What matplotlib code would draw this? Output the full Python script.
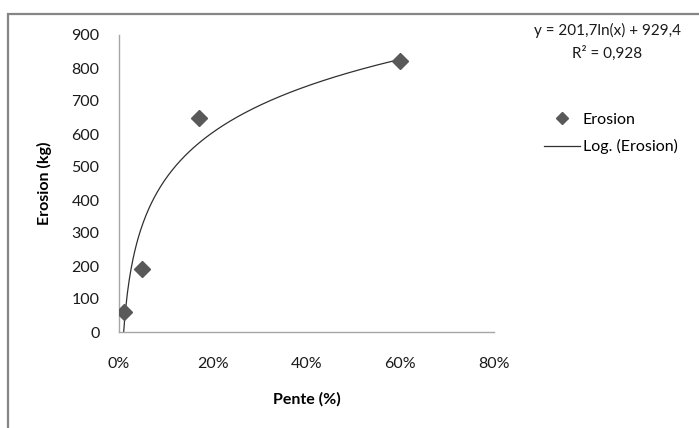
import matplotlib
matplotlib.use("Agg")
import matplotlib.pyplot as plt
import matplotlib.patches as mpatches
from matplotlib.lines import Line2D
from matplotlib.ticker import PercentFormatter
import numpy as np

# donnees
pente = [0.01, 0.05, 0.17, 0.60]
erosion = [60, 190, 650, 820]

# coefficients de la courbe de tendance (affiches)
coef_a = 201.7
coef_b = 929.4
r2_label = "R² = 0,928"
eq_label = "y = 201,7ln(x) + 929,4"

x_ticks = [0, 0.2, 0.4, 0.6, 0.8]
y_ticks = [0, 100, 200, 300, 400, 500, 600, 700, 800, 900]

plt.rcParams["font.family"] = ["Lato", "DejaVu Sans"]

fig = plt.figure(figsize=(6.99, 4.28), dpi=100)
W, H = 699, 428

# cadre exterieur du graphique (coupe a droite et en bas)
frame = mpatches.Rectangle((8 / W, -0.1), 1.2, 1 - 14 / H + 0.1,
                           transform=fig.transFigure, fill=False,
                           edgecolor="#858585", linewidth=1.6)
fig.patches.append(frame)

ax = fig.add_axes([119 / W, 1 - 332 / H, (494 - 119) / W, (332 - 35) / H])

grey = "#595959"
ax.plot(pente, erosion, linestyle="none", marker="D", markersize=8,
        color=grey, zorder=3)

xs = np.linspace(min(pente), max(pente), 300)
ax.plot(xs, coef_a * np.log(xs) + coef_b, color="#303030", linewidth=0.9,
        zorder=2)

ax.set_xlim(0, 0.8)
ax.set_ylim(0, 900)
ax.set_xticks(x_ticks)
ax.set_yticks(y_ticks)
ax.xaxis.set_major_formatter(PercentFormatter(1.0, decimals=0))
ax.tick_params(length=0, labelsize=11.5, labelcolor="#1a1a1a")
ax.tick_params(axis="x", pad=18)
ax.tick_params(axis="y", pad=14)

for side in ["top", "right"]:
    ax.spines[side].set_visible(False)
for side in ["left", "bottom"]:
    ax.spines[side].set_color("#a6a6a6")
    ax.spines[side].set_linewidth(1.0)

ax.set_xlabel("Pente (%)", fontsize=11.5, fontweight="bold", labelpad=15)
ax.set_ylabel("Erosion (kg)", fontsize=11.5, fontweight="bold", labelpad=14)

fig.text(607 / W, 1 - 30 / H, eq_label, ha="center", va="center",
         fontsize=11, color="#1a1a1a")
fig.text(607 / W, 1 - 53 / H, r2_label, ha="center", va="center",
         fontsize=11, color="#1a1a1a")

handles = [
    Line2D([], [], linestyle="none", marker="D", markersize=6, color=grey,
           label="Erosion"),
    Line2D([], [], color="#303030", linewidth=0.9, label="Log. (Erosion)"),
]
fig.legend(handles=handles, loc="upper left",
           bbox_to_anchor=(530 / W, 1 - 98 / H), frameon=False,
           fontsize=11.5, handlelength=2.2, handletextpad=0.2,
           labelspacing=0.8)

fig.savefig("out.png", dpi=100)
